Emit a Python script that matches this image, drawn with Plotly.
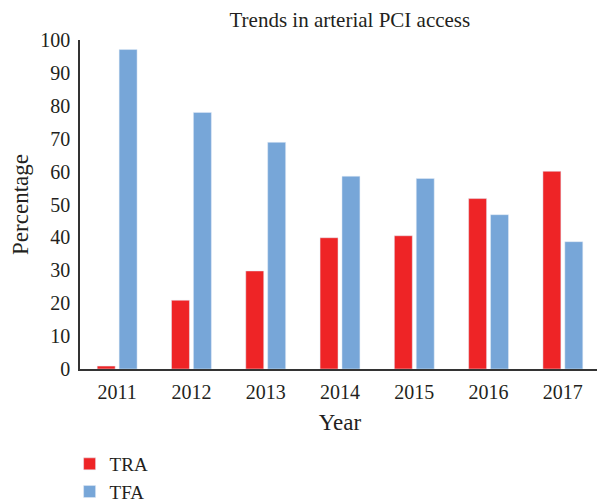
import plotly.graph_objects as go

years = ["2011", "2012", "2013", "2014", "2015", "2016", "2017"]
tra = [0.9, 20.9, 29.8, 39.9, 40.5, 51.8, 60.1]
tfa = [97.1, 78.0, 68.9, 58.6, 57.9, 46.9, 38.7]

font_family = "Liberation Serif, DejaVu Serif, serif"
W, H = 597, 496  # page body has an 8px margin

fig = go.Figure()
fig.add_trace(go.Bar(name="TRA", x=years, y=tra, marker_color="#EE2426"))
fig.add_trace(go.Bar(name="TFA", x=years, y=tfa, marker_color="#77A6D8"))

fig.update_layout(
    width=W, height=H,
    margin=dict(l=72, r=5, t=32, b=135, autoexpand=False),
    paper_bgcolor="white", plot_bgcolor="white",
    barmode="group", bargap=0.41, bargroupgap=0.18,
    font=dict(family=font_family, size=19, color="#231f20"),
    title=dict(text="Trends in arterial PCI access", x=0.519, xanchor="center",
               xref="paper", y=1 - 12 / H, yref="container", yanchor="middle",
               font=dict(family=font_family, size=21, color="#231f20")),
    showlegend=True,
    legend=dict(orientation="v", x=-0.02, xanchor="left",
                y=1 - 437 / H, yref="container", yanchor="top",
                font=dict(family=font_family, size=19, color="#231f20"),
                tracegroupgap=0, itemwidth=30),
)
fig.update_xaxes(showline=True, linecolor="#333333", linewidth=1.5,
                 ticks="outside", ticklen=4, tickcolor="rgba(0,0,0,0)",
                 tickfont=dict(family=font_family, size=20, color="#231f20"),
                 title=dict(text="Year", standoff=12), showgrid=False)
fig.update_yaxes(range=[0, 100], dtick=10, showline=True, linecolor="#333333", linewidth=1.5,
                 ticks="outside", ticklen=4, tickcolor="rgba(0,0,0,0)", showgrid=False, zeroline=False,
                 tickfont=dict(family=font_family, size=20, color="#231f20"),
                 title=dict(text="Percentage", standoff=12))

fig.write_html("out.html")
